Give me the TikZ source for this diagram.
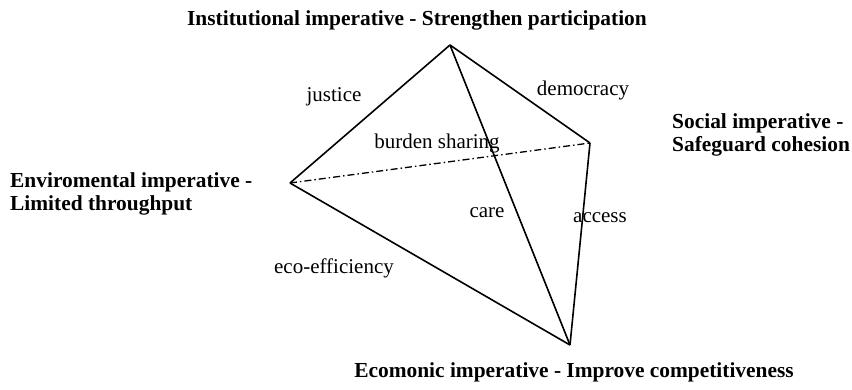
\documentclass[tikz,border=0pt]{standalone}
\usepackage{fontspec}
\setmainfont{Liberation Serif}
\usetikzlibrary{positioning}

\begin{document}
\begin{tikzpicture}[
    x=1pt, y=-1pt,
    every node/.style={inner sep=0pt, font=\fontsize{21}{23}\selectfont},
    imperative/.style={font=\bfseries\fontsize{21.4}{23}\selectfont, align=left},
    side/.style={draw, line width=1.6pt, line join=round},
    hidden/.style={draw, line width=1.3pt, dash pattern=on 7pt off 3pt on 1.5pt off 3pt}
]

    \useasboundingbox (0,0) rectangle (852,390);

    % Corners of the tetrahedron
    \coordinate (inst) at (450,45);
    \coordinate (envi) at (290,183);
    \coordinate (soci) at (590,143);
    \coordinate (econ) at (570,345);

    % Imperatives
    \node[imperative] (instlabel) at (417,20) {Institutional imperative - Strengthen participation};
    \node[imperative, anchor=west] (envilabel) at (10,194) {Enviromental imperative -\\Limited throughput};
    \node[imperative, anchor=west] (socilabel) at (672,135) {Social imperative -\\Safeguard cohesion};
    \node[imperative] (econlabel) at (574,372) {Ecomonic imperative - Improve competitiveness};

    % Edges
    \draw[hidden] (envi) -- (soci);
    \draw[side] (inst) -- (envi);
    \draw[side] (inst) -- (soci);
    \draw[side] (inst) -- (econ);
    \draw[side] (envi) -- (econ);
    \draw[side] (soci) -- (econ);

    % Edge labels
    \node (justice) at (334,97) {justice};
    \node (democracy) at (583,90) {democracy};
    \node (burden) at (437,143) {burden sharing};
    \node (care) at (487,213) {care};
    \node (access) at (600,218) {access};
    \node (ecoeff) at (334,268) {eco-efficiency};

\end{tikzpicture}
\end{document}
